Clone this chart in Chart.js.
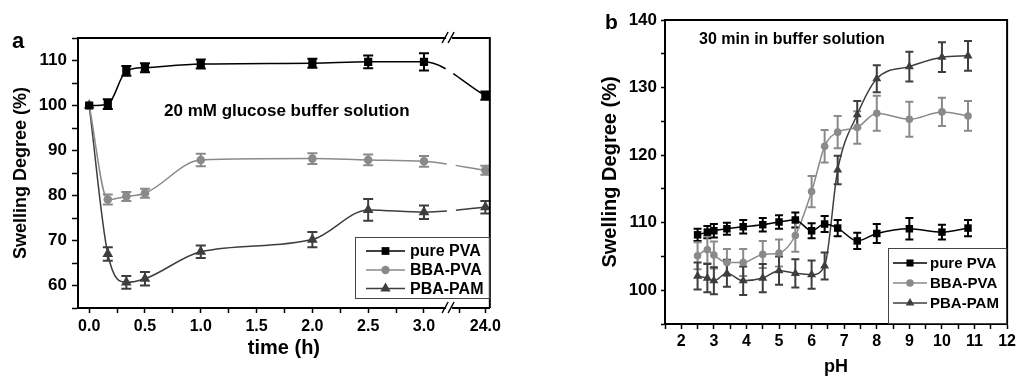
<!DOCTYPE html>
<html><head><meta charset="utf-8">
<script src="https://cdn.jsdelivr.net/npm/chart.js@4/dist/chart.umd.min.js"></script>
<style>
html,body{margin:0;padding:0;background:#fff;overflow:hidden;width:1019px;height:376px}
canvas{position:absolute;top:0}
#ca{left:0}
#cb{left:580px}
</style></head><body>
<canvas id="ca" width="505" height="376"></canvas>
<canvas id="cb" width="439" height="376"></canvas>
<script>
const FONT = "'Liberation Sans', Arial, Helvetica, sans-serif";

// ---------- Panel a: swelling vs time ----------
const timeHours = [0, 0.167, 0.333, 0.5, 1, 2, 2.5, 3, 24];
const timeTickLabels = ['0.0', '0.5', '1.0', '1.5', '2.0', '2.5', '3.0', '24.0'];
const timeTickValues = [0, 0.5, 1, 1.5, 2, 2.5, 3, 24];
const pureTime = [100, 100.3, 107.7, 108.4, 109.2, 109.4, 109.7, 109.7, 102.2];
const pureTimeErr = [0, 1.1, 1.1, 1.0, 1.0, 1.0, 1.4, 1.9, 0.9];
const bbaTime = [100, 79.1, 79.8, 80.5, 87.9, 88.2, 87.9, 87.6, 85.6];
const bbaTimeErr = [0, 1.1, 1.0, 1.0, 1.4, 1.2, 1.2, 1.2, 1.0];
const pbaTime = [100, 67.0, 60.7, 61.5, 67.5, 70.2, 76.8, 76.3, 77.4];
const pbaTimeErr = [0, 1.5, 1.4, 1.5, 1.4, 1.7, 2.4, 1.5, 1.4];

// ---------- Panel b: swelling vs pH ----------
const phValues = [2.5, 2.8, 3.0, 3.4, 3.9, 4.5, 5.0, 5.5, 6.0, 6.4, 6.8, 7.4, 8.0, 9.0, 10.0, 10.8];
const purePH = [108.2, 108.6, 108.8, 109.1, 109.4, 109.7, 110.1, 110.4, 108.8, 109.8, 109.2, 107.3, 108.4, 109.1, 108.6, 109.2];
const purePHErr = [0.9, 0.9, 1.0, 0.9, 1.0, 1.0, 1.0, 1.1, 1.1, 1.2, 1.2, 1.2, 1.4, 1.6, 1.1, 1.2];
const bbaPH = [105.1, 106.0, 105.2, 104.1, 104.1, 105.3, 105.5, 108.1, 114.6, 121.3, 123.4, 124.1, 126.2, 125.3, 126.4, 125.8];
const bbaPHErr = [2.0, 2.0, 2.0, 2.0, 2.0, 2.0, 2.0, 2.4, 2.3, 2.4, 2.4, 2.4, 2.6, 2.6, 2.1, 2.2];
const pbaPH = [102.1, 101.8, 101.4, 102.5, 101.4, 101.8, 102.9, 102.5, 102.3, 103.6, 117.8, 126.0, 131.3, 133.1, 134.5, 134.7];
const pbaPHErr = [2.0, 2.1, 2.0, 2.0, 2.1, 2.1, 2.1, 2.1, 2.1, 2.0, 2.1, 2.0, 2.0, 2.2, 2.2, 2.2];

const seriesNames = ['pure PVA', 'BBA-PVA', 'PBA-PAM'];
const seriesColors = ['#000000', '#8a8a8a', '#3e3e3e'];
const seriesStyles = ['rect', 'circle', 'triangle'];

// broken time axis: values after 3 h sit right of the break
const BREAK_AT = 3.225, AFTER_BREAK = 3.55;
const tPos = t => (t > 3 ? AFTER_BREAK : t);

function drawMarker(ctx, style, x, y, r) {
  ctx.beginPath();
  if (style === 'rect') {
    const s = Math.SQRT1_2 * r;
    ctx.rect(x - s, y - s, 2 * s, 2 * s);
  } else if (style === 'circle') {
    ctx.arc(x, y, r, 0, Math.PI * 2);
  } else {
    ctx.moveTo(x, y - r);
    ctx.lineTo(x + r * Math.sin(2 * Math.PI / 3), y + r * 0.5);
    ctx.lineTo(x - r * Math.sin(2 * Math.PI / 3), y + r * 0.5);
    ctx.closePath();
  }
  ctx.fill();
}

const errorBarPlugin = {
  id: 'errorBars',
  beforeDatasetsDraw(chart, args, opts) {
    const {ctx} = chart;
    const xs = chart.scales.x, ys = chart.scales.y;
    chart.data.datasets.forEach((ds) => {
      if (!ds.errors) return;
      ctx.save();
      ctx.strokeStyle = ds.borderColor;
      ctx.lineWidth = opts.lineWidth;
      ds.data.forEach((pt, i) => {
        const e = ds.errors[i];
        if (!e) return;
        const px = xs.getPixelForValue(pt.x);
        const y1 = ys.getPixelForValue(pt.y + e), y2 = ys.getPixelForValue(pt.y - e);
        ctx.beginPath();
        ctx.moveTo(px, y1); ctx.lineTo(px, y2);
        ctx.moveTo(px - opts.cap, y1); ctx.lineTo(px + opts.cap, y1);
        ctx.moveTo(px - opts.cap, y2); ctx.lineTo(px + opts.cap, y2);
        ctx.stroke();
      });
      ctx.restore();
    });
  }
};

const decorPlugin = {
  id: 'decor',
  afterDraw(chart, args, o) {
    const {ctx, chartArea: ca} = chart;
    ctx.save();
    // frame top/right
    ctx.strokeStyle = '#000';
    ctx.lineWidth = 2;
    ctx.beginPath();
    ctx.moveTo(ca.left, ca.top); ctx.lineTo(ca.right, ca.top); ctx.lineTo(ca.right, ca.bottom);
    ctx.stroke();
    // axis break marks
    if (o.breakAt !== undefined) {
      const bx = chart.scales.x.getPixelForValue(o.breakAt);
      [ca.top, ca.bottom].forEach(by => {
        ctx.fillStyle = '#fff';
        ctx.fillRect(bx - 3, by - 2, 6, 4);
        ctx.strokeStyle = '#000';
        ctx.lineWidth = 1.5;
        ctx.beginPath();
        ctx.moveTo(bx - 7, by + 5); ctx.lineTo(bx - 1, by - 6);
        ctx.moveTo(bx - 1, by + 5); ctx.lineTo(bx + 5, by - 6);
        ctx.stroke();
      });
    }
    // legend box
    const L = o.legend;
    ctx.strokeStyle = '#444';
    ctx.lineWidth = 1;
    ctx.strokeRect(L.x0 + 0.5, L.y0 + 0.5, L.x1 - L.x0, L.y1 - L.y0);
    chart.data.datasets.forEach((ds, i) => {
      const y = L.rowY[i];
      ctx.strokeStyle = ds.borderColor;
      ctx.lineWidth = 1.5;
      ctx.beginPath();
      ctx.moveTo(L.lineX0, y); ctx.lineTo(L.lineX1, y);
      ctx.stroke();
      ctx.fillStyle = ds.backgroundColor;
      drawMarker(ctx, ds.pointStyle, (L.lineX0 + L.lineX1) / 2, y, L.markerR[i]);
      ctx.fillStyle = '#000';
      ctx.font = 'bold ' + L.fontSize + 'px ' + FONT;
      ctx.textAlign = 'left';
      ctx.textBaseline = 'middle';
      ctx.fillText(ds.label, L.textX, y + 1);
    });
    // texts
    o.texts.forEach(t => {
      ctx.fillStyle = '#000';
      ctx.font = 'bold ' + t.size + 'px ' + FONT;
      ctx.textAlign = 'left';
      ctx.textBaseline = 'middle';
      ctx.fillText(t.text, t.x, t.y);
    });
    ctx.restore();
  }
};

function makeDatasets(xs, ys, errs, radii, dashIdx) {
  return ys.map((vals, si) => ({
    label: seriesNames[si],
    data: xs.map((x, i) => ({x: x, y: vals[i]})),
    errors: errs[si],
    borderColor: seriesColors[si],
    backgroundColor: seriesColors[si],
    pointStyle: seriesStyles[si],
    pointRadius: radii[si],
    pointBorderWidth: 0,
    borderWidth: 1.5,
    cubicInterpolationMode: 'monotone',
    segment: dashIdx === undefined ? {} : {
      borderDash: ctx => (ctx.p1DataIndex === dashIdx ? [23, 9, 400] : undefined)
    }
  }));
}

function axisCommon(tickLen, tickSize, pad) {
  return {
    border: {display: true, color: '#000', width: 2},
    grid: {display: true, drawOnChartArea: false, drawTicks: true, tickLength: tickLen, tickWidth: 1.5, tickColor: '#000'},
    ticks: {color: '#000', font: {family: FONT, size: tickSize, weight: 'bold'}, padding: pad, autoSkip: false, maxRotation: 0}
  };
}

// ---- chart a ----
const xa = axisCommon(5, 16, 4);
xa.type = 'linear';
xa.min = -0.1; xa.max = 3.59;
xa.afterBuildTicks = s => {
  const t = [];
  for (let v = 0; v <= 3.0001; v += 0.25) t.push({value: Math.round(v * 100) / 100});
  t.push({value: 3.32});
  t.push({value: AFTER_BREAK});
  s.ticks = t;
};
xa.ticks.callback = v => {
  const idx = timeTickValues.findIndex(tv => Math.abs(tPos(tv) - v) < 1e-6);
  return idx >= 0 ? timeTickLabels[idx] : '';
};
xa.title = {display: true, text: 'time (h)', color: '#000', font: {family: FONT, size: 20, weight: 'bold'}, padding: {top: 0, bottom: 16}};
xa.afterFit = s => { s.height = 68; };

const ya = axisCommon(6, 17, 5);
ya.min = 55; ya.max = 115;
ya.ticks.stepSize = 5;
ya.ticks.callback = v => (v % 10 === 0 && v >= 60 && v <= 110 ? String(v) : '');
ya.title = {display: true, text: 'Swelling Degree (%)', color: '#000', font: {family: FONT, size: 18, weight: 'bold'}, padding: {top: 10, bottom: 0}};
ya.afterFit = s => { s.width = 78; };

new Chart(document.getElementById('ca'), {
  type: 'line',
  data: {datasets: makeDatasets(timeHours.map(tPos), [pureTime, bbaTime, pbaTime], [pureTimeErr, bbaTimeErr, pbaTimeErr], [5.8, 4.3, 6.2], 8)},
  options: {
    responsive: false, animation: false, devicePixelRatio: 1,
    layout: {padding: {left: 0, top: 38, right: 6, bottom: 0}},
    scales: {x: xa, y: ya},
    plugins: {
      legend: {display: false}, tooltip: {enabled: false},
      errorBars: {lineWidth: 2, cap: 5},
      decor: {
        breakAt: BREAK_AT,
        legend: {x0: 355, y0: 237, x1: 489, y1: 298, rowY: [251, 270, 288.5], lineX0: 366, lineX1: 405, markerR: [5.5, 4.2, 6], textX: 410, fontSize: 16},
        texts: [
          {text: 'a', x: 12, y: 42, size: 22},
          {text: '20 mM glucose buffer solution', x: 164, y: 111, size: 17}
        ]
      }
    }
  },
  plugins: [errorBarPlugin, decorPlugin]
});

// ---- chart b ----
const xb = axisCommon(5, 16, 3);
xb.type = 'linear';
xb.min = 1.5; xb.max = 12;
xb.ticks.stepSize = 0.5;
xb.ticks.callback = v => (Number.isInteger(v) ? String(v) : '');
xb.title = {display: true, text: 'pH', color: '#000', font: {family: FONT, size: 18, weight: 'bold', lineHeight: 1}, padding: {top: 0, bottom: 0}};
xb.afterFit = s => { s.height = 52; };

const yb = axisCommon(4, 17, 4);
yb.min = 95; yb.max = 140;
yb.ticks.stepSize = 5;
yb.ticks.callback = v => (v % 10 === 0 ? String(v) : '');
yb.title = {display: true, text: 'Swelling Degree (%)', color: '#000', font: {family: FONT, size: 20, weight: 'bold'}, padding: {top: 18, bottom: 0}};
yb.afterFit = s => { s.width = 85; };

new Chart(document.getElementById('cb'), {
  type: 'line',
  data: {datasets: makeDatasets(phValues, [purePH, bbaPH, pbaPH], [purePHErr, bbaPHErr, pbaPHErr], [5.3, 3.8, 5.2])},
  options: {
    responsive: false, animation: false, devicePixelRatio: 1,
    layout: {padding: {left: 0, top: 20, right: 11, bottom: 0}},
    scales: {x: xb, y: yb},
    plugins: {
      legend: {display: false}, tooltip: {enabled: false},
      errorBars: {lineWidth: 2, cap: 4},
      decor: {
        legend: {x0: 308, y0: 248, x1: 426, y1: 323, rowY: [263, 283, 303], lineX0: 313, lineX1: 347, markerR: [5, 3.8, 5], textX: 350, fontSize: 15},
        texts: [
          {text: 'b', x: 25, y: 23, size: 21},
          {text: '30 min in buffer solution', x: 119, y: 40, size: 16}
        ]
      }
    }
  },
  plugins: [errorBarPlugin, decorPlugin]
});
</script>
</body></html>
